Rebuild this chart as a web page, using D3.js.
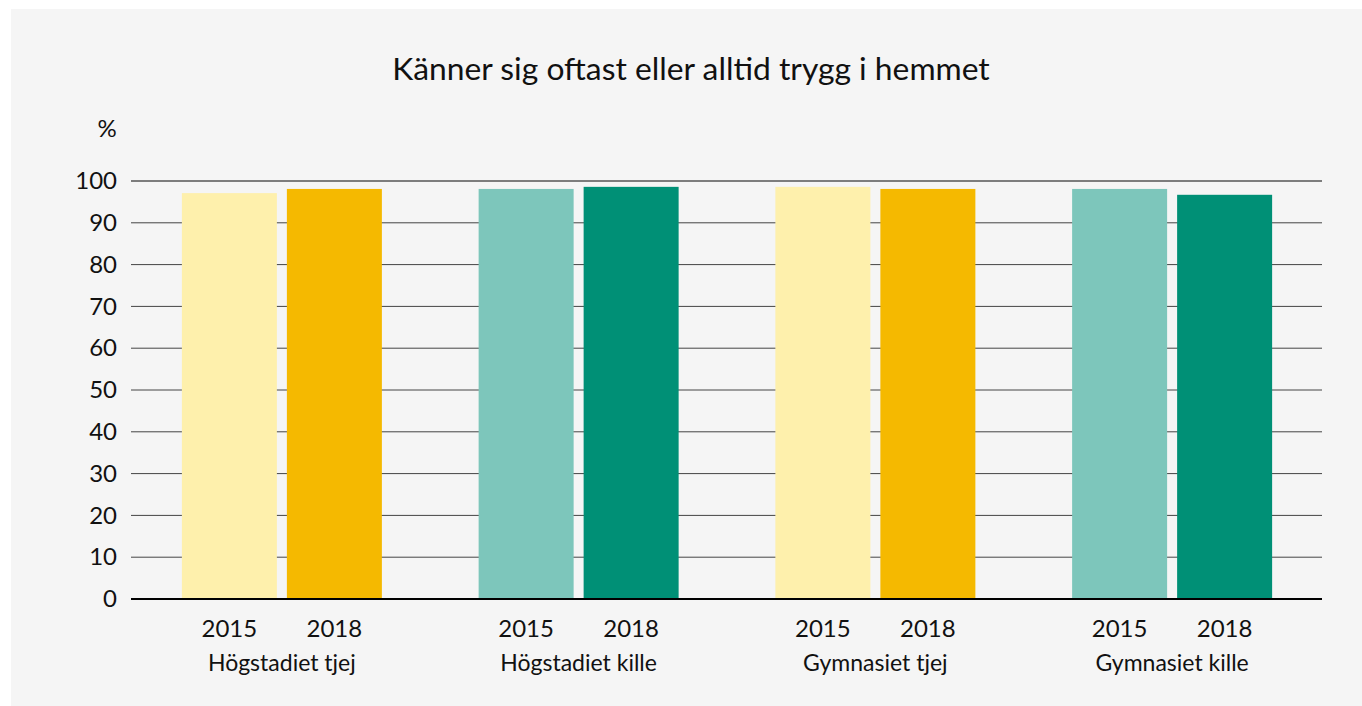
<!DOCTYPE html>
<html>
<head>
<meta charset="utf-8">
<script src="https://cdn.jsdelivr.net/npm/d3@7"></script>
<style>
  body { margin: 0; background: #ffffff; }
  svg { display: block; }
  text { font-family: Lato, "Open Sans", sans-serif; fill: #111; }
</style>
</head>
<body>
<svg id="chart" width="1362" height="706"></svg>
<script>
const title = "Känner sig oftast eller alltid trygg i hemmet";
const groups = ["Högstadiet tjej", "Högstadiet kille", "Gymnasiet tjej", "Gymnasiet kille"];
const years = ["2015", "2018"];
const values2015 = [97.1, 98.1, 98.6, 98.1];
const values2018 = [98.1, 98.6, 98.1, 96.7];
const yTicks = [0, 10, 20, 30, 40, 50, 60, 70, 80, 90, 100];
const unitLabel = "%";

const colors = [
  ["#FEF0AC", "#F5B900"],
  ["#7DC6BB", "#009076"],
  ["#FEF0AC", "#F5B900"],
  ["#7DC6BB", "#009076"]
];

const svg = d3.select("#chart");
svg.append("rect").attr("x", 11).attr("y", 9).attr("width", 1351).attr("height", 697).attr("fill", "#F5F5F5");

const pLeft = 131, pRight = 1322, pTop = 181, pBottom = 599;

const x0 = d3.scaleBand().domain(groups).range([133.5, 1320.5]).paddingInner(0).paddingOuter(0);
const x1 = d3.scaleBand().domain(years).range([0, 200]).paddingInner(10/105).paddingOuter(0);
const y = d3.scaleLinear().domain([0, 100]).range([pBottom, pTop]);

svg.append("text").attr("x", 691).attr("y", 80).attr("text-anchor", "middle")
  .style("font-size", "31.8px").text(title);

svg.append("text").attr("x", 107).attr("y", 137).attr("text-anchor", "middle")
  .style("font-size", "24px").text(unitLabel);

// gridlines
const grid = svg.append("g");
yTicks.filter(t => t > 0).forEach(t => {
  grid.append("line").attr("x1", pLeft).attr("x2", pRight)
    .attr("y1", y(t)).attr("y2", y(t))
    .attr("stroke", t === 100 ? "#555" : "#444")
    .attr("stroke-width", t === 100 ? 1.6 : 1);
});

// y axis labels
const yAxis = d3.axisLeft(y).tickValues(yTicks).tickSize(0).tickPadding(0);
const ya = svg.append("g").attr("transform", `translate(117,0)`).call(yAxis);
ya.select(".domain").remove();
ya.selectAll("text").style("font-size", "24px").style("font-family", "Lato, 'Open Sans', sans-serif").attr("fill", "#111");

// bars
const data = groups.map((g, i) => ({ g, i, vals: [values2015[i], values2018[i]] }));
const gg = svg.append("g").selectAll("g").data(data).join("g")
  .attr("transform", d => `translate(${x0(d.g) + x0.bandwidth()/2 - 100},0)`);
gg.selectAll("rect").data(d => d.vals.map((v, j) => ({ v, j, i: d.i }))).join("rect")
  .attr("x", d => x1(years[d.j]))
  .attr("width", x1.bandwidth())
  .attr("y", d => y(d.v))
  .attr("height", d => y(0) - y(d.v))
  .attr("fill", d => colors[d.i][d.j]);

// year labels
gg.selectAll("text.yr").data(years).join("text").attr("class", "yr")
  .attr("x", d => x1(d) + x1.bandwidth()/2)
  .attr("y", 637).attr("text-anchor", "middle").style("font-size", "24px").text(d => d);

// group labels
gg.append("text").attr("x", 100).attr("y", 671).attr("text-anchor", "middle")
  .style("font-size", "23px").text(d => d.g);

// zero axis
svg.append("line").attr("x1", pLeft).attr("x2", pRight).attr("y1", y(0)).attr("y2", y(0))
  .attr("stroke", "#000").attr("stroke-width", 2);
</script>
</body>
</html>
